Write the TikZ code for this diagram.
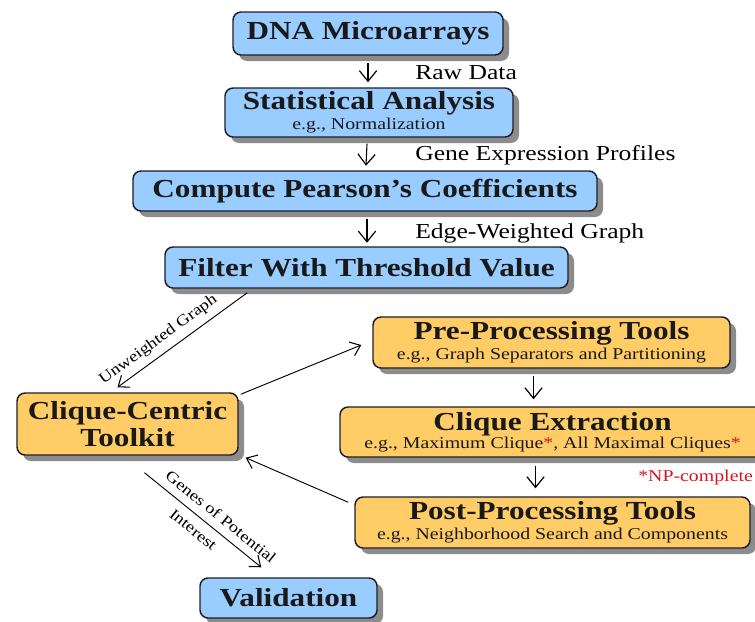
\documentclass[tikz,border=0pt]{standalone}
\usepackage{fontspec}
\setmainfont[FakeStretch=1.2]{Liberation Serif}
\usetikzlibrary{arrows.meta,shadows,calc}

\definecolor{boxblue}{RGB}{153,204,255}
\definecolor{boxorange}{RGB}{255,204,102}
\definecolor{npred}{RGB}{215,20,30}
\definecolor{edge}{RGB}{30,30,40}

\newcommand\boxtitle{\fontsize{19.5}{22}\selectfont\bfseries}
\newcommand\boxsub{\fontsize{12.4}{14}\selectfont}
\newcommand\flowlabel{\fontsize{16}{18}\selectfont}
\newcommand\slantlabel{\fontsize{11.6}{13}\selectfont}
\newcommand\npmark{{\color{npred}*}}

\begin{document}
\begin{tikzpicture}[x=0.75pt,y=-0.75pt,
  box/.style={draw=edge, line width=1.1pt, rounded corners=6pt, align=center,
    inner sep=0pt, text=black!90,
    drop shadow={shadow xshift=4.5pt, shadow yshift=-4.5pt, fill=black!45, opacity=1}},
  bluebox/.style={box, fill=boxblue},
  orangebox/.style={box, fill=boxorange},
  arr/.style={draw=black, line width=0.8pt, -{Straight Barb[length=8pt,width=13pt,line width=0.9pt]}},
  darr/.style={draw=black, line width=0.7pt, -{Straight Barb[length=7pt,width=11pt,line width=0.8pt]}},
  lbl/.style={anchor=west, inner sep=0pt, font=\flowlabel},
  slant/.style={sloped, inner sep=0pt, font=\slantlabel},
]
\useasboundingbox (0,0) rectangle (755,621);

% main pipeline (blue)
\node[bluebox, minimum width=202.5pt, minimum height=32.25pt] (dna) at (368,33.5)
  {\boxtitle DNA Microarrays};
\node[bluebox, minimum width=216pt, minimum height=36.75pt] (stat) at (369,112.5)
  {{\boxtitle Statistical Analysis}\\[1pt]{\boxsub e.g., Normalization}};
\node[bluebox, minimum width=348pt, minimum height=30pt] (pear) at (365,191)
  {\boxtitle Compute Pearson's Coefficients};
\node[bluebox, minimum width=302.25pt, minimum height=30.75pt] (filt) at (366.5,267.5)
  {\boxtitle Filter With Threshold Value};

% toolkit (orange)
\node[orangebox, minimum width=165.75pt, minimum height=46.5pt] (cc) at (127.5,424)
  {{\boxtitle Clique-Centric}\\[2pt]{\boxtitle Toolkit}};
\node[orangebox, minimum width=267.75pt, minimum height=38.25pt] (pre) at (551.5,342.5)
  {{\boxtitle Pre-Processing Tools}\\[1pt]{\boxsub e.g., Graph Separators and Partitioning}};
\node[orangebox, minimum width=318.75pt, minimum height=37.5pt] (ce) at (552.5,432)
  {{\boxtitle Clique Extraction}\\[0pt]{\boxsub e.g., Maximum Clique\npmark, All Maximal Cliques\npmark}};
\node[orangebox, minimum width=296.25pt, minimum height=38.25pt] (post) at (552.5,522.5)
  {{\boxtitle Post-Processing Tools}\\[1pt]{\boxsub e.g., Neighborhood Search and Components}};

% validation (blue)
\node[bluebox, minimum width=132.75pt, minimum height=30pt] (val) at (288.5,598)
  {\boxtitle Validation};

% footnote
\node[anchor=west, inner sep=0pt, text=npred, font=\boxsub] (np) at (638,478) {*NP-complete};

% vertical flow arrows and their labels
\draw[arr] ($(dna.south)+(0,7)$) -- ($(dna.south |- stat.north)+(0,-5)$);
\draw[arr] ($(stat.south)+(-2,6)$) -- ($(stat.south -| dna.south)+(-2,28)$);
\draw[arr] ($(pear.south)+(2,7)$) -- ($(pear.south)+(2,31)$);
\draw[arr] ($(pre.south)+(-18,7)$) -- ($(pre.south |- ce.north)+(-18,-7)$);
\draw[arr] ($(ce.south)+(-17,8)$) -- ($(ce.south |- post.north)+(-17,-8)$);

\node[lbl] (l1) at (415,73) {Raw Data};
\node[lbl] (l2) at (415,155) {Gene Expression Profiles};
\node[lbl] (l3) at (415,233) {Edge-Weighted Graph};

% toolkit connectors
\draw[darr] ($(filt.south west)+(83,4)$) --
  node[slant, above=5pt, pos=0.62] {Unweighted Graph}
  ($(cc.north)+(-10,-5)$);
\draw[darr] ($(cc.north east)+(2,2)$) -- ($(pre.west)+(-11,2.5)$);
\draw[darr] ($(post.north west)+(-6,6)$) -- ($(cc.south east)+(7,2)$);
\draw[darr] ($(cc.south)+(17,17)$) --
  node[slant, above=6pt, pos=0.58] {Genes of Potential}
  node[slant, below=6pt, pos=0.49] {Interest}
  ($(val.north west)+(62,-10)$);
\end{tikzpicture}
\end{document}
